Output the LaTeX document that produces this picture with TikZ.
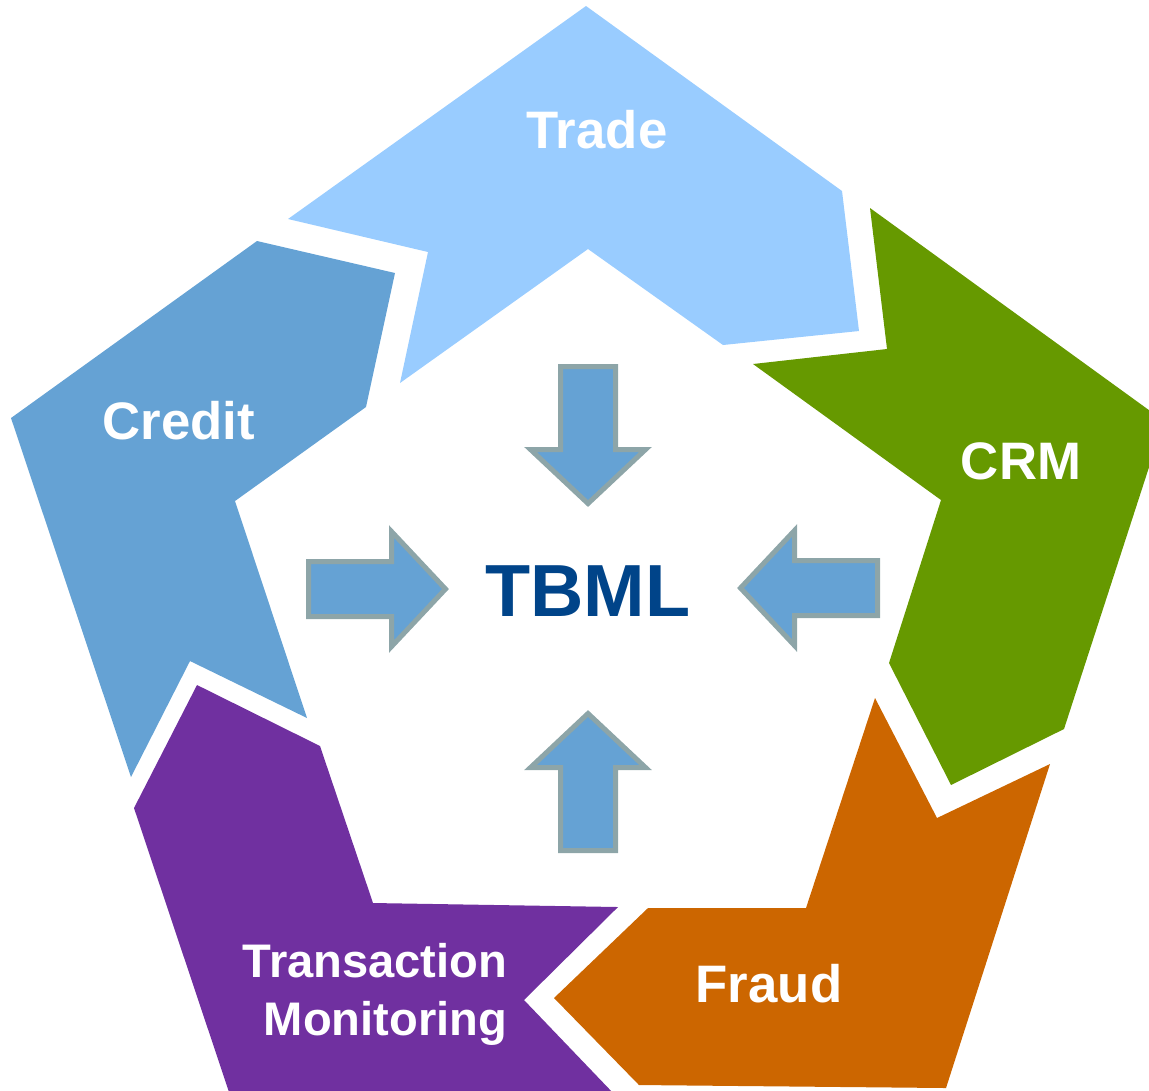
\documentclass[tikz,border=0pt]{standalone}
\usepackage{fontspec}
\setmainfont{Liberation Sans}
\definecolor{tradeblue}{HTML}{99CCFF}
\definecolor{creditblue}{HTML}{65A2D4}
\definecolor{crmgreen}{HTML}{669900}
\definecolor{fraudorange}{HTML}{CC6600}
\definecolor{tmpurple}{HTML}{7030A0}
\definecolor{arrowblue}{HTML}{65A2D4}
\definecolor{arrowgray}{HTML}{8DA5A8}
\definecolor{tbmlblue}{HTML}{004489}
\begin{document}
\begin{tikzpicture}[x=0.01cm,y=-0.01cm,
    seglabel/.style={text=white,font=\bfseries\fontsize{15}{18}\selectfont,inner sep=0pt,anchor=base},
    blockarrow/.style={draw=arrowgray,fill=arrowblue,line width=1.42pt,line join=miter}]
  \useasboundingbox (0,0) rectangle (1149,1090);
  \clip (0,0) rectangle (1149,1090);
  % the five segments
  \fill[tradeblue] (586,6) -- (842,191) -- (859,331) -- (723,345) -- (588,249)
    -- (400,383) -- (428,252) -- (288,219) -- cycle;
  \fill[crmgreen] (870,208) -- (1164,421) -- (1064,729) -- (951,785) -- (889,663)
    -- (941,500) -- (753,364) -- (887,349) -- cycle;
  \fill[fraudorange] (875,698) -- (937,818) -- (1050,764) -- (946,1088) -- (639,1085)
    -- (554,998) -- (648,908) -- (806,908) -- cycle;
  \fill[tmpurple] (197,685) -- (320,746) -- (373,903) -- (618,907) -- (524,1000)
    -- (615,1095) -- (230,1095) -- (134,808) -- cycle;
  \fill[creditblue] (257,241) -- (395,273) -- (366,407) -- (235,501) -- (307,718)
    -- (190,661) -- (131,777) -- (11,418) -- cycle;
  % labels
  \node[seglabel] (trade) at (597,148) {Trade};
  \node[seglabel] (crm) at (1021,479) {CRM};
  \node[seglabel] (fraud) at (769,1002) {Fraud};
  \node[seglabel] (credit) at (179,439) {Credit};
  \node[seglabel,anchor=north east,align=right,font=\bfseries\fontsize{13.4}{16.5}\selectfont]
    (tm) at (508,943) {Transaction\\Monitoring};
  % arrows towards the centre
  \foreach \tx/\ty/\ang in {449/589/0, 737/588/180, 588/507/-90, 588/710/90}
    \draw[blockarrow,shift={(\tx,\ty)},rotate=\ang] (-3.5,0) -- (-57.5,57.5) -- (-57.5,27.5)
      -- (-140.5,27.5) -- (-140.5,-27.5) -- (-57.5,-27.5) -- (-57.5,-57.5) -- cycle;
  \node[inner sep=0pt,anchor=base,text=tbmlblue,font=\bfseries\fontsize{21}{25}\selectfont]
    (tbml) at (588,616) {TBML};
\end{tikzpicture}
\end{document}
